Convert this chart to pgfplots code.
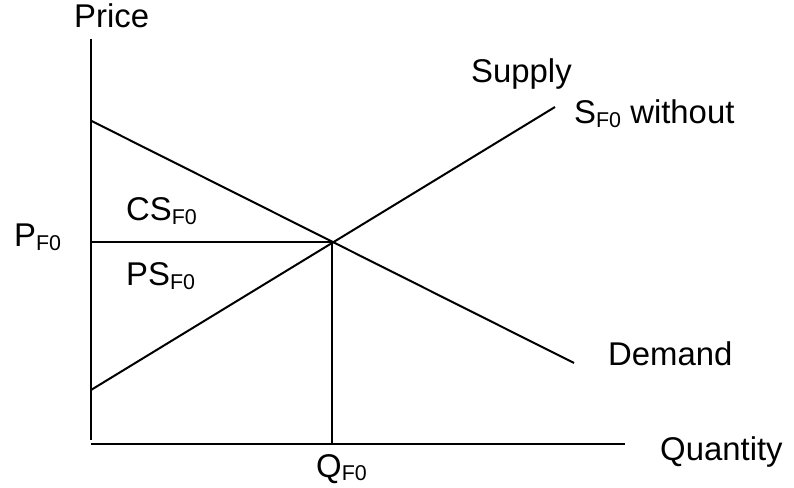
\documentclass[border=0pt]{standalone}
\usepackage{fontspec}
\setmainfont{Liberation Sans}
\usepackage{pgfplots}
\pgfplotsset{compat=1.18}
\newcommand\sub[1]{\raisebox{-3.7bp}{\fontsize{21.5}{24}\selectfont #1}}
\newcommand\lbl[1]{\fontsize{33}{39}\selectfont #1}
\begin{document}
\begin{tikzpicture}
\begin{axis}[
  scale only axis, width=794bp, height=488bp,
  xmin=0, xmax=794, ymin=0, ymax=488,
  hide axis, clip=false,
]
\path (axis cs:0,0) rectangle (axis cs:794,488);
% axes
\addplot[black, line width=2bp, mark=none] coordinates {(91,449) (91,48)};
\addplot[black, line width=2bp, mark=none] coordinates {(91,43.5) (625,43.5)};
% demand
\addplot[black, line width=2bp, mark=none] coordinates {(91,367.3) (574,125)};
% supply
\addplot[black, line width=2bp, mark=none] coordinates {(91,98) (555,381)};
% equilibrium price and quantity
\addplot[black, line width=2bp, mark=none] coordinates {(91,246.3) (332,246.3)};
\addplot[black, line width=2bp, mark=none] coordinates {(332,246.3) (332,43.5)};
% labels
\node[inner sep=0pt, anchor=base west] at (axis cs:74,460) {\lbl{Price}};
\node[inner sep=0pt, anchor=base west] at (axis cs:471,405) {\lbl{Supply}};
\node[inner sep=0pt, anchor=base west] at (axis cs:574,364) {\lbl{S\sub{F0} without}};
\node[inner sep=0pt, anchor=base west] at (axis cs:126,267) {\lbl{CS\sub{F0}}};
\node[inner sep=0pt, anchor=base west] at (axis cs:14,241) {\lbl{P\sub{F0}}};
\node[inner sep=0pt, anchor=base west] at (axis cs:126,202) {\lbl{PS\sub{F0}}};
\node[inner sep=0pt, anchor=base west] at (axis cs:608,122) {\lbl{Demand}};
\node[inner sep=0pt, anchor=base west] at (axis cs:660,28) {\lbl{Quantity}};
\node[inner sep=0pt, anchor=base west] at (axis cs:316,11) {\lbl{Q\sub{F0}}};
\end{axis}
\end{tikzpicture}
\end{document}
